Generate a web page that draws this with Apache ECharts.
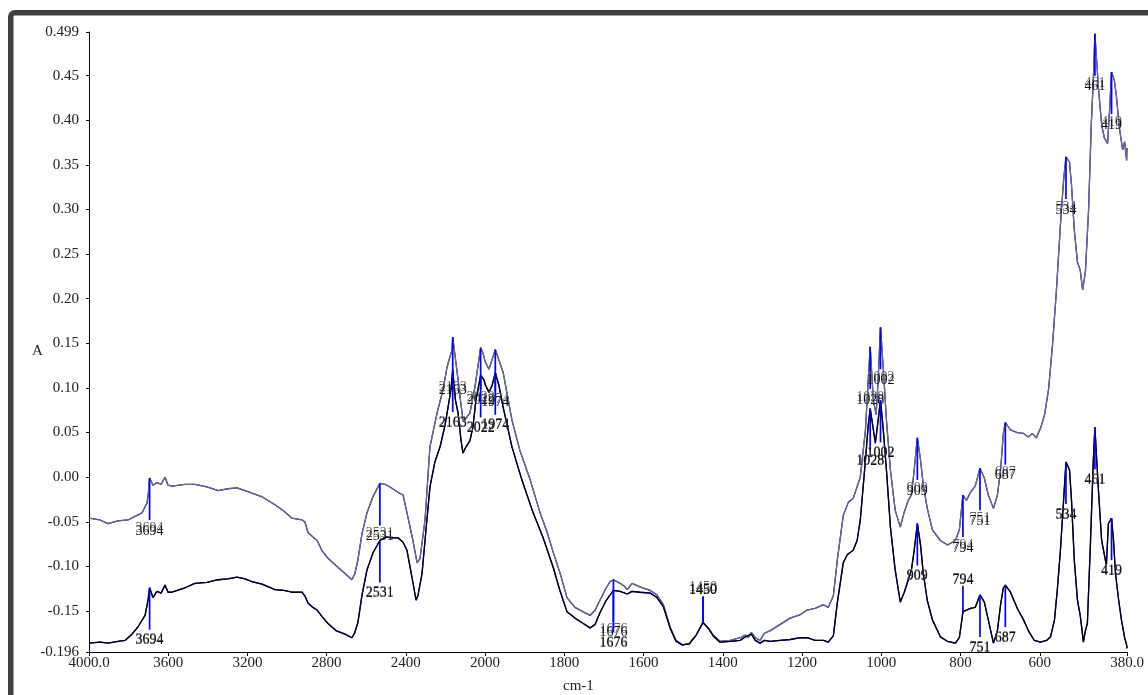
<!DOCTYPE html>
<html>
<head>
<meta charset="utf-8">
<script src="https://cdn.jsdelivr.net/npm/echarts/dist/echarts.min.js"></script>
<style>
html,body{margin:0;padding:0;background:#fff;}
#chart{width:1148px;height:695px;}
</style>
</head>
<body>
<div id="chart"></div>
<script>
// ---------------- DATA ----------------
const upperWn = [4000,3944,3904,3854,3803,3768,3732,3707,3700,3694,3677,3657,3636,3616,3601,3581,3515,3465,3404,3348,3298,3253,3212,3177,3126,3061,3016,2975,2924,2910,2894,2869,2848,2824,2793,2753,2707,2672,2657,2642,2621,2596,2566,2531,2505,2480,2439,2414,2394,2364,2343,2328,2303,2278,2242,2212,2192,2177,2167,2163,2136,2121,2111,2096,2076,2051,2022,2010,1990,1974,1954,1932,1912,1886,1861,1843,1828,1811,1793,1773,1752,1735,1722,1710,1694,1684,1676,1659,1649,1641,1629,1609,1583,1566,1550,1533,1518,1502,1485,1467,1450,1437,1424,1407,1381,1356,1343,1336,1328,1318,1306,1295,1280,1255,1230,1204,1187,1167,1146,1134,1121,1111,1096,1083,1071,1053,1040,1033,1028,1020,1013,1008,1002,995,987,977,965,952,942,932,924,917,909,901,894,884,871,851,833,813,803,794,785,775,763,751,740,730,717,707,699,692,687,674,657,641,629,619,609,598,588,578,568,558,548,540,534,525,520,513,505,498,492,485,477,470,465,461,452,444,437,429,424,419,412,407,399,391,386,381,380];
const upperAbs = [-0.046,-0.048,-0.052,-0.049,-0.048,-0.044,-0.040,-0.029,-0.018,-0.001,-0.009,-0.006,-0.008,0.000,-0.009,-0.010,-0.008,-0.008,-0.011,-0.015,-0.013,-0.012,-0.015,-0.018,-0.022,-0.031,-0.038,-0.046,-0.048,-0.050,-0.062,-0.067,-0.071,-0.082,-0.091,-0.099,-0.108,-0.115,-0.108,-0.093,-0.063,-0.040,-0.022,-0.007,-0.008,-0.011,-0.017,-0.020,-0.040,-0.071,-0.096,-0.091,-0.048,0.034,0.072,0.098,0.123,0.135,0.142,0.157,0.109,0.081,0.064,0.066,0.072,0.101,0.145,0.139,0.121,0.143,0.117,0.064,0.030,-0.003,-0.040,-0.062,-0.084,-0.107,-0.135,-0.146,-0.151,-0.155,-0.149,-0.138,-0.124,-0.117,-0.115,-0.119,-0.122,-0.126,-0.119,-0.123,-0.127,-0.132,-0.143,-0.168,-0.183,-0.188,-0.187,-0.177,-0.163,-0.169,-0.177,-0.184,-0.183,-0.180,-0.177,-0.180,-0.174,-0.180,-0.183,-0.175,-0.172,-0.165,-0.158,-0.154,-0.149,-0.147,-0.143,-0.146,-0.133,-0.093,-0.043,-0.028,-0.024,0.000,0.053,0.109,0.146,0.086,0.070,0.109,0.168,0.122,0.064,0.008,-0.037,-0.056,-0.039,-0.026,-0.020,0.008,0.044,0.019,-0.009,-0.035,-0.059,-0.071,-0.076,-0.071,-0.059,-0.020,-0.026,-0.017,-0.010,0.010,-0.001,-0.020,-0.035,-0.020,0.008,0.049,0.061,0.053,0.050,0.049,0.045,0.049,0.044,0.055,0.070,0.098,0.148,0.210,0.283,0.333,0.359,0.353,0.327,0.277,0.241,0.232,0.210,0.230,0.299,0.397,0.445,0.497,0.436,0.395,0.380,0.374,0.411,0.454,0.445,0.428,0.391,0.367,0.376,0.355,0.369];

const lowerWn = [4000,3944,3904,3854,3818,3783,3753,3717,3702,3694,3677,3657,3636,3616,3601,3581,3515,3465,3404,3348,3298,3253,3212,3177,3126,3061,3016,2975,2924,2910,2894,2869,2848,2824,2793,2753,2707,2672,2657,2642,2621,2596,2566,2531,2500,2470,2439,2414,2394,2369,2348,2338,2318,2298,2278,2253,2227,2202,2187,2172,2163,2149,2136,2121,2111,2096,2076,2061,2046,2022,2005,1990,1982,1974,1965,1954,1932,1907,1881,1854,1828,1811,1793,1773,1752,1735,1722,1710,1694,1676,1659,1641,1629,1609,1583,1566,1550,1533,1518,1502,1485,1467,1450,1437,1424,1407,1381,1356,1343,1328,1318,1306,1295,1280,1255,1230,1204,1187,1167,1146,1134,1121,1111,1096,1086,1071,1061,1053,1040,1033,1028,1020,1015,1008,1002,995,987,977,965,952,942,932,924,917,909,901,894,884,871,851,833,813,803,794,785,775,763,751,740,730,717,707,699,692,687,674,657,641,629,614,598,583,573,563,556,548,540,534,525,520,513,505,498,490,485,480,472,465,461,452,444,437,432,427,419,414,409,401,394,386,381,380];
const lowerAbs = [-0.186,-0.185,-0.186,-0.184,-0.183,-0.176,-0.168,-0.155,-0.138,-0.124,-0.135,-0.128,-0.130,-0.121,-0.129,-0.129,-0.124,-0.119,-0.118,-0.115,-0.114,-0.112,-0.114,-0.117,-0.120,-0.126,-0.127,-0.129,-0.129,-0.133,-0.141,-0.146,-0.149,-0.156,-0.164,-0.172,-0.176,-0.180,-0.174,-0.163,-0.132,-0.104,-0.085,-0.071,-0.067,-0.068,-0.068,-0.073,-0.082,-0.112,-0.138,-0.132,-0.108,-0.059,-0.011,0.017,0.034,0.058,0.078,0.098,0.120,0.086,0.072,0.041,0.027,0.034,0.041,0.056,0.086,0.114,0.109,0.095,0.103,0.117,0.103,0.078,0.034,-0.003,-0.037,-0.067,-0.101,-0.127,-0.151,-0.158,-0.164,-0.169,-0.165,-0.152,-0.138,-0.127,-0.128,-0.131,-0.128,-0.129,-0.130,-0.135,-0.145,-0.169,-0.184,-0.188,-0.187,-0.177,-0.163,-0.169,-0.178,-0.185,-0.184,-0.183,-0.179,-0.176,-0.183,-0.186,-0.183,-0.184,-0.183,-0.182,-0.180,-0.180,-0.183,-0.183,-0.185,-0.178,-0.141,-0.096,-0.087,-0.082,-0.071,-0.048,0.019,0.058,0.077,0.053,0.038,0.064,0.086,0.053,0.008,-0.056,-0.104,-0.140,-0.129,-0.115,-0.104,-0.082,-0.052,-0.076,-0.108,-0.138,-0.160,-0.179,-0.184,-0.186,-0.180,-0.151,-0.149,-0.147,-0.146,-0.132,-0.140,-0.160,-0.186,-0.172,-0.143,-0.124,-0.121,-0.129,-0.147,-0.160,-0.172,-0.183,-0.185,-0.183,-0.179,-0.160,-0.127,-0.082,-0.026,0.017,0.008,-0.026,-0.093,-0.138,-0.155,-0.185,-0.172,-0.164,-0.071,0.019,0.056,-0.015,-0.071,-0.087,-0.099,-0.052,-0.046,-0.071,-0.108,-0.138,-0.160,-0.180,-0.188,-0.192];

// labelled peaks (cm-1)
const peakWn = [3694, 2531, 2163, 2022, 1974, 1676, 1450, 1028, 1002, 909, 794, 751, 687, 534, 461, 419];
const upperLabelAbove = [1450];
const lowerLabelAbove = [1450, 794];

// axis ticks
const xTicksHigh = [4000, 3600, 3200, 2800, 2400, 2000];
const xTicksLow = [1800, 1600, 1400, 1200, 1000, 800, 600, 380];
const yTicks = [-0.196, -0.15, -0.10, -0.05, 0, 0.05, 0.10, 0.15, 0.20, 0.25, 0.30, 0.35, 0.40, 0.45, 0.499];
const yMin = -0.196, yMax = 0.499;
const xSplit = 2000;

// ---------------- HELPERS ----------------
function interp(wn, ab, w) {
  for (let i = 0; i < wn.length - 1; i++) {
    if (wn[i] >= w && wn[i + 1] <= w) {
      if (wn[i] === wn[i + 1]) return ab[i];
      const t = (wn[i] - w) / (wn[i] - wn[i + 1]);
      return ab[i] + t * (ab[i + 1] - ab[i]);
    }
  }
  return ab[ab.length - 1];
}
function part(wn, ab, lo, hi) {
  const out = [];
  const addB = (w) => out.push([w, interp(wn, ab, w)]);
  if (wn[0] > hi) addB(hi);
  for (let i = 0; i < wn.length; i++) {
    if (wn[i] >= lo && wn[i] <= hi) out.push([wn[i], ab[i]]);
  }
  if (wn[wn.length - 1] < lo) addB(lo);
  out.sort((a, b) => b[0] - a[0]);
  return out;
}
const upHi = part(upperWn, upperAbs, xSplit, 4000);
const upLo = part(upperWn, upperAbs, 380, xSplit);
const loHi = part(lowerWn, lowerAbs, xSplit, 4000);
const loLo = part(lowerWn, lowerAbs, 380, xSplit);

function peaksFor(inHigh) {
  const d = [];
  peakWn.forEach(w => {
    if ((w >= xSplit) !== inHigh) return;
    d.push([w, interp(upperWn, upperAbs, w), upperLabelAbove.includes(w) ? -1 : 1, 0]);
    d.push([w, interp(lowerWn, lowerAbs, w), lowerLabelAbove.includes(w) ? -1 : 1, 1]);
  });
  return d;
}

const SERIF = '"Liberation Serif", "Times New Roman", serif';

function renderPeak(params, api) {
  const w = api.value(0), a = api.value(1), dir = api.value(2), kind = api.value(3);
  const p = api.coord([w, a]);
  const lineLen = dir > 0 ? 42 : 26;
  const labOff = dir > 0 ? 53 : -32;
  const shift = kind === 0 ? -3 : -1;
  const txt = String(w);
  return {
    type: 'group',
    children: [
      { type: 'line', shape: { x1: p[0], y1: p[1], x2: p[0], y2: p[1] + dir * lineLen },
        style: { stroke: '#0000ff', lineWidth: 1.7 } },
      { type: 'text', style: { text: txt, x: p[0], y: p[1] + labOff + shift, align: 'center', verticalAlign: 'middle',
        font: '14px ' + SERIF, fill: '#666' } },
      { type: 'text', style: { text: txt, x: p[0], y: p[1] + labOff, align: 'center', verticalAlign: 'middle',
        font: '14px ' + SERIF, fill: '#111' } }
    ]
  };
}

function lineSeries(data, idx, color, width, z) {
  return {
    type: 'line', xAxisIndex: idx, yAxisIndex: idx, data: data,
    showSymbol: false, symbol: 'none', smooth: false, z: z,
    lineStyle: { color: color, width: width }, silent: true, animation: false
  };
}

const xAxisBase = {
  type: 'value', inverse: true, splitLine: { show: false },
  axisLine: { show: true, onZero: false, lineStyle: { color: '#000', width: 1 } },
};

const chart = echarts.init(document.getElementById('chart'), null, { renderer: 'canvas' });
chart.setOption({
  backgroundColor: '#fff',
  animation: false,
  grid: [
    { left: 89, top: 32, width: 396, height: 620 },
    { left: 485, top: 32, width: 642, height: 620 }
  ],
  xAxis: [
    Object.assign({}, xAxisBase, {
      gridIndex: 0, min: xSplit, max: 4000,
      axisTick: { show: true, length: 4, lineStyle: { color: '#000' }, customValues: xTicksHigh },
      axisLabel: { customValues: xTicksHigh, margin: 4, fontFamily: SERIF, fontSize: 15, color: '#222',
        formatter: v => v === 4000 ? '4000.0' : String(v) }
    }),
    Object.assign({}, xAxisBase, {
      gridIndex: 1, min: 380, max: xSplit,
      axisTick: { show: true, length: 4, lineStyle: { color: '#000' }, customValues: xTicksLow },
      axisLabel: { customValues: xTicksLow, margin: 4, fontFamily: SERIF, fontSize: 15, color: '#222',
        formatter: v => v === 380 ? '380.0' : String(v) }
    })
  ],
  yAxis: [
    { type: 'value', gridIndex: 0, min: yMin, max: yMax, splitLine: { show: false },
      axisLine: { show: true, onZero: false, lineStyle: { color: '#000', width: 1 } },
      axisTick: { show: true, length: 3, lineStyle: { color: '#000' }, customValues: yTicks },
      axisLabel: { customValues: yTicks, margin: 10, fontFamily: SERIF, fontSize: 15, color: '#222',
        padding: [0, 0, 10, 0],
        formatter: v => (Math.abs(v - yMin) < 1e-9 || Math.abs(v - yMax) < 1e-9) ? v.toFixed(3) : v.toFixed(2) } },
    { type: 'value', gridIndex: 1, min: yMin, max: yMax, show: false, splitLine: { show: false } }
  ],
  graphic: [
    { type: 'rect', silent: true, z: 100,
      shape: { x: 10.75, y: 12.75, width: 2000, height: 2000, r: 4 },
      style: { fill: null, stroke: '#404040', lineWidth: 5.5 } },
    { type: 'text', left: 32, top: 344, style: { text: 'A', font: '15px ' + SERIF, fill: '#222' } },
    { type: 'text', left: 563, top: 679, style: { text: 'cm-1', font: '15px ' + SERIF, fill: '#222' } }
  ],
  series: [
    lineSeries(upHi, 0, '#0000ff', 1.3, 2),
    lineSeries(upHi, 0, '#707070', 1.2, 3),
    lineSeries(loHi, 0, '#0000ff', 1.3, 2),
    lineSeries(loHi, 0, '#000000', 1.3, 3),
    lineSeries(upLo, 1, '#0000ff', 1.3, 2),
    lineSeries(upLo, 1, '#707070', 1.2, 3),
    lineSeries(loLo, 1, '#0000ff', 1.3, 2),
    lineSeries(loLo, 1, '#000000', 1.3, 3),
    { type: 'custom', xAxisIndex: 0, yAxisIndex: 0, data: peaksFor(true), renderItem: renderPeak,
      encode: { x: 0, y: 1 }, clip: false, z: 5, silent: true, animation: false },
    { type: 'custom', xAxisIndex: 1, yAxisIndex: 1, data: peaksFor(false), renderItem: renderPeak,
      encode: { x: 0, y: 1 }, clip: false, z: 5, silent: true, animation: false }
  ]
});
</script>
</body>
</html>
